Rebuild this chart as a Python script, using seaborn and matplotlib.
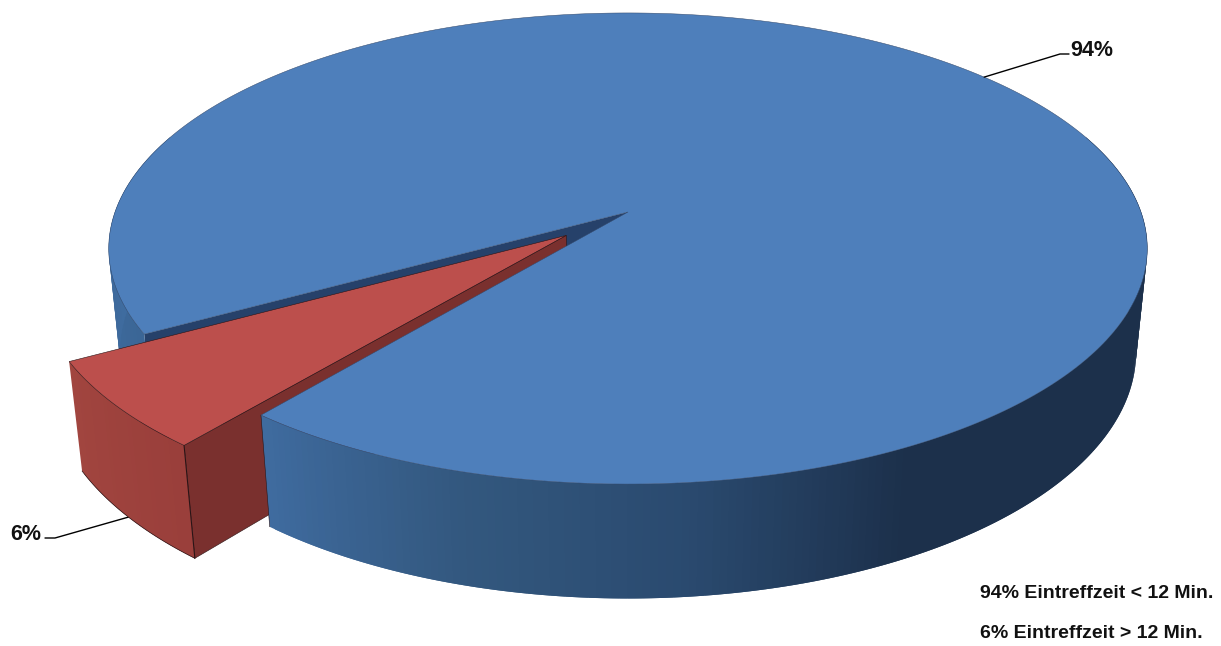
import numpy as np
import seaborn as sns
import matplotlib
matplotlib.use("Agg")
import matplotlib.pyplot as plt
from matplotlib.collections import PolyCollection

# ---- data ----
categories = ["Eintreffzeit < 12 Min.", "Eintreffzeit > 12 Min."]
shares = [94, 6]
slice_labels = ["94%", "6%"]
legend_labels = ["94% Eintreffzeit < 12 Min.", "6% Eintreffzeit > 12 Min."]

# ---- view and style ----
RED_MID = 139.8          # direction of the small slice, degrees clockwise from east
EXPLODE = 0.155
CX, CY = 628.0, 212.0    # pie centre in pixels
A, B, K = 513.0, 229.9, 0.155   # perspective of the top disc
CZ, MZ = 105.0, 0.0215   # height of the pie
BLUE_TOP, RED_TOP = "#4E7FBB", "#BC4F4C"
BLUE_CUT, RED_CUT = "#26416A", "#7A302E"
BLUE_BACK = ["#3B6696", "#4270A6"]
BLUE_FRONT = ["#3F6B9F", "#33587F", "#2A4A6F", "#1C304B"]
RED_WALL = ["#A1453F", "#9A3F3B"]
EDGE = "#2a1416"

sns.set_theme(style="white")
plt.rcParams["font.family"] = ["Liberation Sans", "DejaVu Sans"]


def project(x, y, z=0.0):
    """unit-disc coordinates + height flag (0 top, 1 bottom) -> pixels"""
    x, y = np.asarray(x, float), np.asarray(y, float)
    d = 1 - K * y + MZ * z
    return CX + A * x / d, CY + (B * y + CZ * z) / d


def pts(x, y, z=0.0):
    return np.column_stack(project(x, y, z))


def rim(deg, off=(0.0, 0.0)):
    r = np.radians(deg)
    return np.cos(r) + off[0], np.sin(r) + off[1]


def wall(angles, colors, off=(0.0, 0.0)):
    # every quad runs on under the next one, so no seams show between them
    polys = []
    last = len(angles) - 1
    for i in range(last):
        x0, y0 = rim(angles[i], off)
        x1, y1 = rim(angles[min(i + 2, last)], off)
        polys.append(np.vstack([pts([x0, x1], [y0, y1], 0), pts([x1, x0], [y1, y0], 1)]))
    return PolyCollection(polys, facecolors=colors, edgecolors="none", linewidths=0)


def cut_face(x, y):
    return np.vstack([pts([0, x], [0, y], 0), pts([x, 0], [y, 0], 1)])


fig = plt.figure(figsize=(12.21, 6.46), dpi=100)
ax = fig.add_axes([0, 0, 1, 1])
ax.set_xlim(0, 1221)
ax.set_ylim(646, 0)
ax.axis("off")

sweep = shares[1] / sum(shares) * 360.0
red_a0, red_a1 = RED_MID - sweep / 2, RED_MID + sweep / 2
off = (EXPLODE * np.cos(np.radians(RED_MID)), EXPLODE * np.sin(np.radians(RED_MID)))

# blue: far cut face, left wall
x1, y1 = rim(red_a1)
ax.fill(*cut_face(x1, y1).T, color=BLUE_CUT, lw=0, zorder=1)
left = np.linspace(red_a1, 200, 40)
ax.add_collection(wall(left, sns.blend_palette(BLUE_BACK, len(left) - 1)), autolim=False)

# red: cut face, outer wall, top
xa, ya = rim(red_a0, off)
xb, yb = rim(red_a1, off)
rf = np.vstack([pts([off[0], xa], [off[1], ya], 0), pts([xa, off[0]], [ya, off[1]], 1)])
ax.fill(*rf.T, facecolor=RED_CUT, edgecolor=EDGE, lw=0.4, zorder=3)
red_arc = np.linspace(red_a1, red_a0, 30)
rw = wall(red_arc, sns.blend_palette(RED_WALL, len(red_arc) - 1), off)
rw.set_zorder(3)
ax.add_collection(rw, autolim=False)
ax.plot(*pts(*rim(red_arc, off), 1).T, color=EDGE, lw=0.5, zorder=3.2)
ax.plot(*np.vstack([pts(xa, ya, 0), pts(xa, ya, 1)]).T, color=EDGE, lw=0.8, zorder=3.2)
rx, ry = rim(red_arc, off)
red_top = np.vstack([pts(off[0], off[1]), pts(rx, ry)])
ax.fill(*red_top.T, facecolor=RED_TOP, edgecolor=EDGE, lw=0.4, zorder=3.5)

# blue: front wall and top
front = np.linspace(red_a0, -20, 200)
n_grad = int(np.sum(front > 62))
cols = list(sns.blend_palette(BLUE_FRONT, n_grad)) + [BLUE_FRONT[-1]] * (len(front) - 1 - n_grad)
fw = wall(front, cols)
fw.set_zorder(4)
ax.add_collection(fw, autolim=False)
x0, y0 = rim(red_a0)
ax.plot(*np.vstack([pts(x0, y0, 0), pts(x0, y0, 1)]).T, color=EDGE, lw=0.4, zorder=4)

blue_arc = np.linspace(red_a1, red_a0 + 360, 360)
bx, by = rim(blue_arc)
blue_top = np.vstack([pts(0, 0), pts(bx, by)])
ax.fill(*blue_top.T, facecolor=BLUE_TOP, edgecolor="#33496b", lw=0.35, zorder=5)

# leaders and labels (anchored on each slice's mid-angle)
bmx, bmy = rim(RED_MID + 180)
p = pts(bmx, bmy, 0)[0]
ax.plot([p[0], 1060, 1069], [p[1], 54, 54], color="black", lw=1.0, zorder=6)
ax.text(1070, 50, slice_labels[0], fontsize=15.5, fontweight="bold", color="#111111",
        ha="left", va="center", zorder=7)
rmx, rmy = rim(RED_MID, off)
p = pts(rmx, rmy, 1)[0]
ax.plot([p[0], 55, 45], [p[1], 538, 538], color="black", lw=1.0, zorder=2)
ax.text(41, 535, slice_labels[1], fontsize=15.5, fontweight="bold", color="#111111",
        ha="right", va="center", zorder=7)

for lab, yy in zip(legend_labels, [593, 633]):
    ax.text(980, yy, lab, fontsize=14, fontweight="bold", color="#111111",
            ha="left", va="center", zorder=7)

fig.savefig("out.png", dpi=100, facecolor="white")
